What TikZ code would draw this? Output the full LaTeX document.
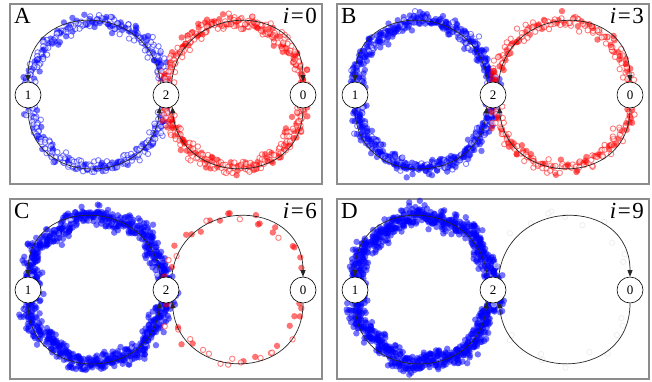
\documentclass[tikz,border=0pt]{standalone}
\usepackage{fontspec}
\setmainfont{Liberation Serif}
\usetikzlibrary{arrows.meta}
\definecolor{framegray}{RGB}{140,140,140}
\definecolor{ptblue}{RGB}{0,0,255}
\definecolor{ptred}{RGB}{255,0,0}
% #1 cx, #2 cy, #3 count, #4 colour, #5 filled fraction, #6 noise, #7 lobes amplitude, #8 radius x
\newcommand\ringpts[8]{%
  \pgfmathsetmacro\ringstep{360/#3}%
  \foreach \k in {1,...,#3}{%
    \pgfmathsetmacro\ringang{mod((\k+1.6*rnd)*\ringstep,360)}%
    \pgfmathsetmacro\ringoff{#6*(rnd+rnd+rnd+rnd-2)+#7*cos(7*\ringang+15)}%
    \pgfmathtruncatemacro\ringfill{rnd<#5}%
    \ifnum\ringfill=1
      \fill[#4, opacity=.55] ({#1+(#8+\ringoff)*cos(\ringang)},{#2+(73.5+\ringoff)*sin(\ringang)}) circle (3.2);
    \else
      \draw[#4, fill=white, opacity=.5, line width=.9pt] ({#1+(#8+\ringoff)*cos(\ringang)},{#2+(73.5+\ringoff)*sin(\ringang)}) circle (2.7);
    \fi
  }}
% graph of three states, #1 = name prefix
\newcommand\stategraph[1]{%
  \node[statenode] (#1one) at (18,-91) {1};
  \node[statenode] (#1two) at (156,-91) {2};
  \node[statenode] (#1zero) at (293,-91) {0};
  \draw[ringarc] (#1two.115) to[out=95,in=90,looseness=1.58] (#1one.90);
  \draw[ringarc] (#1one.270) to[out=270,in=265,looseness=1.57] (#1two.-118);
  \draw[ringarc] (#1two.65) to[out=85,in=90,looseness=1.59] (#1zero.90);
  \draw[ringarc] (#1zero.270) to[out=270,in=275,looseness=1.58] (#1two.-62);
}
\begin{document}
\begin{tikzpicture}[x=1pt,y=1pt,
  statenode/.style={circle, draw=black, line width=.6pt, fill=white, minimum size=26pt, inner sep=0pt, font=\fontsize{13}{13}\selectfont},
  ringarc/.style={-{Triangle[length=6.5pt,width=5pt]}, line width=.7pt, draw=black!85},
  paneltag/.style={inner sep=0pt, font=\fontsize{23}{23}\selectfont},
  panelframe/.style={draw=framegray, line width=1.2pt}]
\useasboundingbox (0,0) rectangle (652,-381);
\pgfmathsetseed{4242}
% ---------- A ----------
\begin{scope}[shift={(10,-4)}]
  \draw[panelframe] (0,0) rectangle (312,-180);
  \ringpts{87}{-90.5}{420}{ptblue}{0.4}{6}{0}{69}
  \ringpts{225}{-90.5}{420}{ptred}{0.4}{6}{0}{68.5}
  \stategraph{A}
  \node[paneltag, anchor=base west] (Atag) at (4,-19) {A};
  \node[paneltag, anchor=base east] (Aiter) at (307,-19) {\textit{i}\kern1.5pt=\kern1.5pt0};
\end{scope}
% ---------- B ----------
\begin{scope}[shift={(337,-4)}]
  \draw[panelframe] (0,0) rectangle (312,-180);
  \ringpts{87}{-90.5}{600}{ptblue}{0.85}{6.5}{1}{69}
  \ringpts{225}{-90.5}{300}{ptred}{0.4}{6}{0}{68.5}
  \stategraph{B}
  \node[paneltag, anchor=base west] (Btag) at (4,-19) {B};
  \node[paneltag, anchor=base east] (Biter) at (307,-19) {\textit{i}\kern1.5pt=\kern1.5pt3};
\end{scope}
% ---------- C ----------
\begin{scope}[shift={(10,-199)}]
  \draw[panelframe] (0,0) rectangle (312,-180);
  \ringpts{87}{-90.5}{850}{ptblue}{0.97}{8}{3}{69}
  \ringpts{225}{-90.5}{55}{ptred}{0.55}{6}{0}{68.5}
  \stategraph{C}
  \node[paneltag, anchor=base west] (Ctag) at (4,-19) {C};
  \node[paneltag, anchor=base east] (Citer) at (307,-19) {\textit{i}\kern1.5pt=\kern1.5pt6};
\end{scope}
% ---------- D ----------
\begin{scope}[shift={(337,-199)}]
  \draw[panelframe] (0,0) rectangle (312,-180);
  \ringpts{87}{-90.5}{1000}{ptblue}{1}{8}{3}{69}
  \ringpts{225}{-90.5}{25}{black!12}{0}{6}{0}{68.5}
  \stategraph{D}
  \node[paneltag, anchor=base west] (Dtag) at (4,-19) {D};
  \node[paneltag, anchor=base east] (Diter) at (307,-19) {\textit{i}\kern1.5pt=\kern1.5pt9};
\end{scope}
\end{tikzpicture}
\end{document}
